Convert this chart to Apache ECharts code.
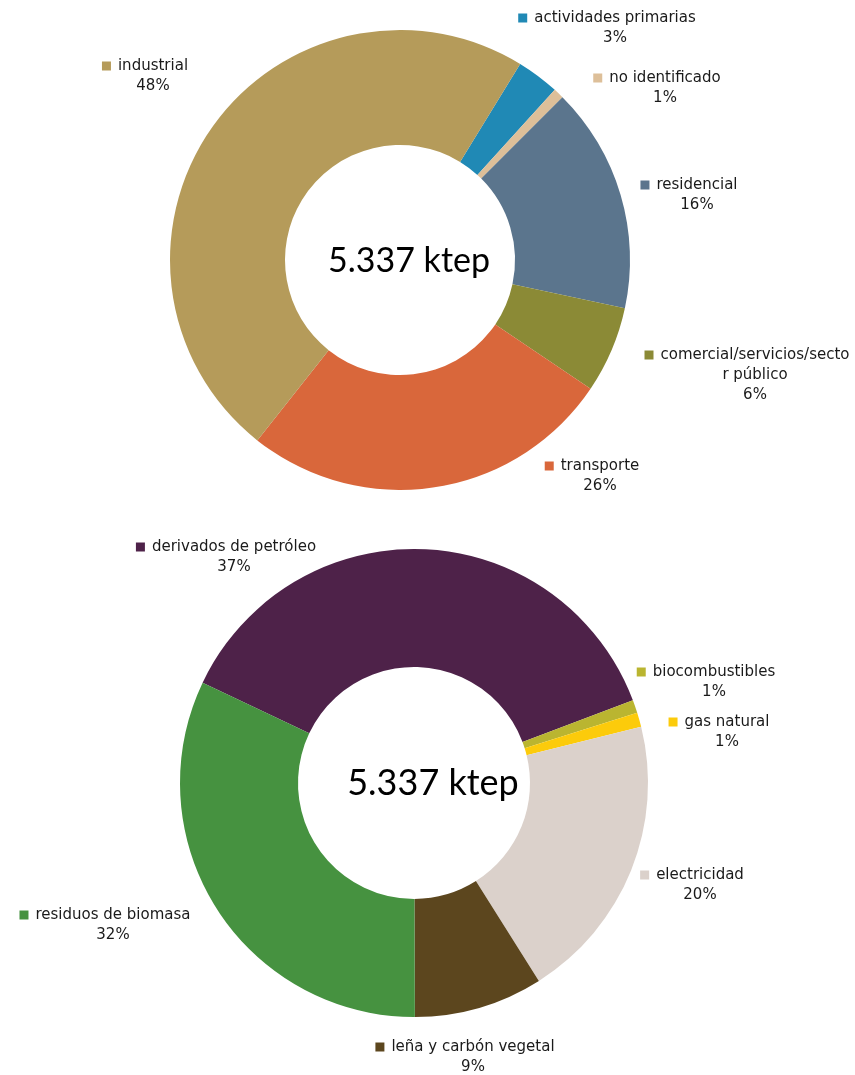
<!DOCTYPE html>
<html>
<head>
<meta charset="utf-8">
<script src="https://cdn.jsdelivr.net/npm/echarts@6/dist/echarts.min.js"></script>
<style>
  html, body { margin: 0; padding: 0; background: #ffffff; }
  #chart { width: 855px; height: 1075px; }
</style>
</head>
<body>
<div id="chart"></div>
<script>
// Consumo final por sector (ktep)
const sectorNames = ['actividades primarias', 'no identificado', 'residencial',
  'comercial/servicios/sector público', 'transporte', 'industrial'];
const sectorValues = [160, 39, 848, 325, 1398, 2567];

// Consumo final por fuente (ktep)
const sourceNames = ['derivados de petróleo', 'biocombustibles', 'gas natural',
  'electricidad', 'leña y carbón vegetal', 'residuos de biomasa'];
const sourceValues = [1985, 48, 53, 1062, 475, 1714];

const sectorColors = ['#2089B5', '#DDBF99', '#5B758D', '#8B8A36', '#D9673B', '#B59B5A'];
const sourceColors = ['#4E2249', '#BAB530', '#FCCB0B', '#DBD1CB', '#5C461E', '#469240'];

// label block centres [x, y]
const sectorLabelPos = [[615, 28], [665, 88], [697, 195], [755, 375], [600, 476], [153, 76]];
const sourceLabelPos = [[234, 557], [714, 682], [727, 732], [700, 885], [473, 1057], [113, 925]];

// long category names wrapped the way the label box breaks them
const wrappedNames = {
  'comercial/servicios/sector público': 'comercial/servicios/secto\nr público'
};

const LABEL_FONT = '"DejaVu Sans", Verdana, sans-serif';
const TEXT_COLOR = '#1a1a1a';

function sum(arr) { return arr.reduce((a, b) => a + b, 0); }

function formatKtep(v) {
  return String(Math.round(v)).replace(/\B(?=(\d{3})+(?!\d))/g, '.') + ' ktep';
}

function labelText(name, value, total) {
  const lines = (wrappedNames[name] || name).split('\n');
  const pct = Math.round(value / total * 100) + '%';
  const out = ['{sq|}{gap|}{t|' + lines[0] + '}{pad|}'];
  lines.slice(1).forEach(l => out.push('{t|' + l + '}'));
  out.push('{t|' + pct + '}');
  return out.join('\n');
}

function buildData(names, values, colors) {
  return names.map((n, i) => ({
    name: n,
    value: values[i],
    itemStyle: { color: colors[i] },
    label: {
      rich: {
        sq: { width: 9, height: 9, backgroundColor: colors[i] },
        gap: { width: 7 },
        pad: { width: 16 },
        t: { fontSize: 15, lineHeight: 20, fontFamily: LABEL_FONT, color: TEXT_COLOR }
      }
    }
  }));
}

function donut(names, values, colors, labelPos, center, radius, startAngle) {
  const total = sum(values);
  return {
    type: 'pie',
    center: center,
    radius: radius,
    startAngle: startAngle,
    clockwise: true,
    avoidLabelOverlap: false,
    silent: true,
    itemStyle: { borderWidth: 0 },
    label: {
      show: true,
      position: 'outside',
      formatter: p => labelText(p.name, p.value, total)
    },
    labelLine: { show: false },
    labelLayout: p => {
      const pos = labelPos[p.dataIndex];
      return { x: pos[0], y: pos[1], align: 'center', verticalAlign: 'middle' };
    },
    emphasis: { disabled: true },
    data: buildData(names, values, colors)
  };
}

const chart = echarts.init(document.getElementById('chart'), null, { renderer: 'canvas' });

chart.setOption({
  animation: false,
  backgroundColor: '#ffffff',
  series: [
    donut(sectorNames, sectorValues, sectorColors, sectorLabelPos, [400, 260], [115, 230], 58.5),
    donut(sourceNames, sourceValues, sourceColors, sourceLabelPos, [414, 783], [116, 234], 154.6)
  ],
  graphic: [
    {
      type: 'text', x: 409, y: 261,
      style: {
        text: formatKtep(sum(sectorValues)),
        font: '34px Lato, "Open Sans", sans-serif',
        fill: '#000000', textAlign: 'center', textVerticalAlign: 'middle'
      }
    },
    {
      type: 'text', x: 433, y: 783,
      style: {
        text: formatKtep(sum(sourceValues)),
        font: '36px Lato, "Open Sans", sans-serif',
        fill: '#000000', textAlign: 'center', textVerticalAlign: 'middle'
      }
    }
  ]
});
</script>
</body>
</html>
